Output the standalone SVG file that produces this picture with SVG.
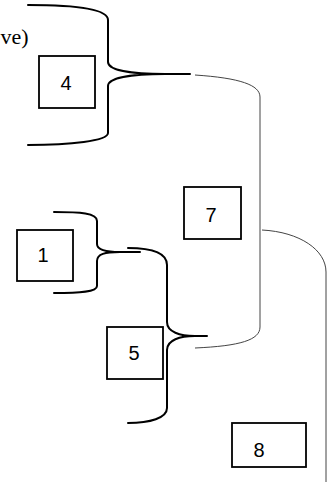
<svg xmlns="http://www.w3.org/2000/svg" width="334" height="482" viewBox="0 0 334 482">
<style>
.brace{fill:none;stroke:#000;stroke-width:2;stroke-linecap:round}
.thin{fill:none;stroke:#444;stroke-width:1}
.box rect{fill:#fff;stroke:#000;stroke-width:1.8}
.box text{font-family:"Liberation Sans",Arial,sans-serif;font-size:20px;text-anchor:middle;fill:#000}
.lbl{font-family:"Liberation Serif","Times New Roman",serif;font-size:22px;fill:#000}
</style>
<rect width="334" height="482" fill="#fff"/>
<text class="lbl" x="0.5" y="44">ve)</text>
<g id="connectors">
<path class="brace" d="M28,5 C70,5 108,8 108,20 L108,62 C108,70 130,74 165,74 L190,74 M165,74 C130,74 108,78 108,86 L108,133 C108,141 70,145 28,145"/>
<path class="brace" d="M54,212 C80,212 97,213 97,221 L97,244 C97,250 105,252 120,252 L140,252 M120,252 C105,252 97,254 97,261 L97,286 C97,292 80,293 54,293"/>
<path class="brace" d="M128,248 C150,248 167,252 167,265 L167,322 C167,332 180,336 195,336 L207,336 M195,336 C180,336 167,340 167,350 L167,408 C167,418 150,423 128,423"/>
<path class="thin" d="M195,75 C240,78 260,85 260,97 L260,327 C260,340 240,346 195,348"/>
<path class="thin" d="M262,230 C300,232 326,250 326,272 L326,482"/>
</g>
<g id="node4" class="box"><rect x="39" y="56" width="56" height="52"/><text x="66" y="90">4</text></g>
<g id="node7" class="box"><rect x="184" y="187" width="57" height="52"/><text x="211" y="222">7</text></g>
<g id="node1" class="box"><rect x="17" y="230" width="56" height="51"/><text x="43" y="262">1</text></g>
<g id="node5" class="box"><rect x="107" y="327" width="56" height="52"/><text x="134" y="360">5</text></g>
<g id="node8" class="box"><rect x="232" y="423" width="74" height="44"/><text x="259" y="457">8</text></g>
</svg>
